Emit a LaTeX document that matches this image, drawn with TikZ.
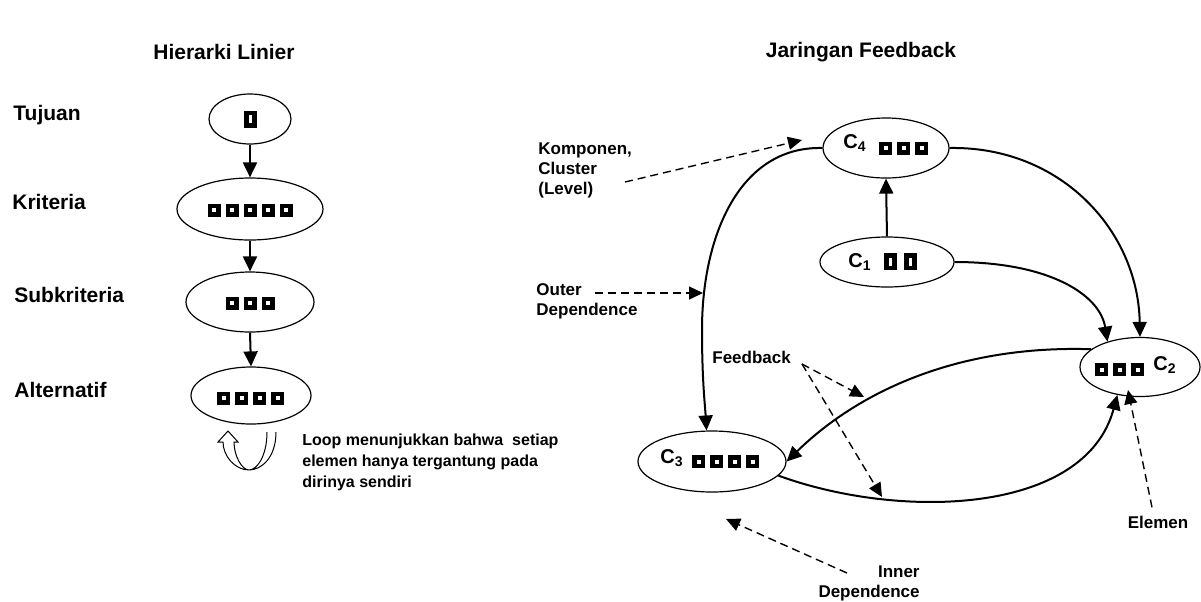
\documentclass[tikz,border=0pt]{standalone}
\usepackage{fontspec}
\setmainfont{Liberation Sans}
\usetikzlibrary{shapes.geometric,arrows.meta,backgrounds}

\tikzset{
  cl/.style={ellipse,draw,line width=0.6pt,fill=white,inner sep=0pt},
  link/.style={line width=1pt,-{Triangle[length=7.5pt,width=7pt]}},
  hint/.style={line width=0.7pt,dash pattern=on 4pt off 2.5pt,-{Triangle[length=7pt,width=6.5pt]}},
  ttl/.style={font=\fontsize{10.5}{12}\selectfont\bfseries,inner sep=0pt},
  lvl/.style={anchor=west,inner sep=0pt,font=\fontsize{10.5}{12}\selectfont\bfseries},
  note/.style={inner sep=0pt,align=left,font=\fontsize{8.5}{10}\selectfont\bfseries},
  clabel/.style={anchor=base west,inner sep=0pt,font=\fontsize{10}{12}\selectfont\bfseries},
  pics/elembox/.style={code={
    \fill (-6.5,-6.5) rectangle (6.5,6.5);
    \fill[white] (-2,-2) rectangle (2,2);}},
  pics/slotbox/.style={code={
    \fill (-6.5,-8.5) rectangle (6.5,8.5);
    \fill[white] (-1.5,-4) rectangle (1.5,4);}},
  pics/selfloop/.style={code={
    \filldraw[fill=white,line width=0.5pt]
      (27,#1) .. controls (27,-12) and (12,0) .. (0,0)
      .. controls (-14,0) and (-26,-14) .. (-26,-28)
      -- (-31,-28) -- (-21,-39) -- (-11,-28) -- (-15,-28)
      .. controls (-15,-14) and (-7,0) .. (0,0)
      .. controls (8,0) and (18,-14) .. (18,#1);}}
}
\newcommand{\sub}[1]{\raisebox{-1.5pt}{\fontsize{7}{8}\selectfont #1}}

\begin{document}
\begin{tikzpicture}[x=0.5pt,y=-0.5pt]
\fill[white] (0,0) rectangle (1201,601);
\useasboundingbox (0,0) rectangle (1201,601);

% headings
\node[ttl] (tl) at (224,52) {Hierarki Linier};
\node[ttl] (tr) at (861,52) {Jaringan Feedback};

% level names of the hierarchy
\node[lvl] (n1) at (13,115) {Tujuan};
\node[lvl] (n2) at (12,202) {Kriteria};
\node[lvl] (n3) at (14,295) {Subkriteria};
\node[lvl] (n4) at (14,390) {Alternatif};

% hierarchy levels
\node[cl,minimum width=41pt,minimum height=25pt] (t1) at (250,119) {};
\node[cl,minimum width=73pt,minimum height=31pt] (t2) at (250,209) {};
\node[cl,minimum width=64pt,minimum height=30pt] (t3) at (250,302) {};
\node[cl,minimum width=60pt,minimum height=28.5pt] (t4) at (251,395.5) {};
\pic at (250,119) {slotbox};
\foreach \x in {214,232,250,268,286} \pic at (\x,210) {elembox};
\foreach \x in {232,250,268} \pic at (\x,303) {elembox};
\foreach \x in {223.5,241.5,259.5,277.5} \pic at (\x,398) {elembox};

\draw[link] (t1.south) -- (t2.north);
\draw[link] (t2.south) -- (t3.north);
\draw[link] (t3.south) -- (t4.north);

\pic at (249,470) {selfloop=-38};
\node[note,anchor=north west,font=\fontsize{8}{10.5}\selectfont\bfseries] (lp) at (302,433)
  {Loop menunjukkan bahwa~ setiap\\elemen hanya tergantung pada\\dirinya sendiri};

% feedback network clusters
\node[cl,minimum width=63pt,minimum height=30pt] (c4) at (886,148) {};
\node[cl,minimum width=67pt,minimum height=25pt] (c1) at (887,262) {};
\node[cl,minimum width=60pt,minimum height=29.5pt] (c2) at (1140,367) {};
\node[cl,minimum width=74pt,minimum height=30.5pt] (c3) at (712,461.5) {};

\begin{scope}[on background layer]
  \pic at (870,327) {selfloop=-42};
  \pic at (697,529) {selfloop=-42};
\end{scope}

\node[clabel] (c4l) at (843,148) {C\sub{4}};
\node[clabel] (c1l) at (848,267) {C\sub{1}};
\node[clabel] (c2l) at (1153,370) {C\sub{2}};
\node[clabel] (c3l) at (660,463) {C\sub{3}};
\foreach \x in {885.5,903.5,921.5} \pic at (\x,148) {elembox};
\foreach \x in {890.5,910.5} \pic at (\x,261.5) {slotbox};
\foreach \x in {1101.5,1119.5,1137.5} \pic at (\x,369.5) {elembox};
\foreach \x in {698.5,716.5,734.5,752.5} \pic at (\x,461.5) {elembox};

% dependencies between clusters
\draw[link] (c1.north) -- (c4.south);
\draw[link] (c4.west) .. controls (740,146) and (702,235) .. (702,330)
  .. controls (702,380) and (705,405) .. (c3.100);
\draw[link] (c4.east) .. controls (1060,146) and (1138,230) .. (c2.north);
\draw[link] (c1.east) .. controls (1050,262) and (1100,295) .. (c2.142);
\draw[link] (c2.160) .. controls (960,345) and (860,390) .. (c3.east);
\draw[link] (c3.348) .. controls (900,520) and (1085,515) .. (c2.231);

% annotations
\node[note,anchor=north west] (kc) at (538,142) {Komponen,\\Cluster\\(Level)};
\node[note,anchor=north west] (od) at (536,283) {Outer\\Dependence};
\node[note,anchor=west] (fb) at (712,357) {Feedback};
\node[note] (el) at (1158,522) {Elemen};
\node[note,anchor=north east,align=right] (id) at (920,565) {Inner\\Dependence};

\coordinate (kcs) at (625,182);
\coordinate (kct) at (802,140);
\coordinate (ods) at (595,293);
\coordinate (odt) at (703,293);
\coordinate (fbs) at (802,364);
\coordinate (fbt1) at (864,397);
\coordinate (fbt2) at (882,497);
\coordinate (elt) at (1128,390);
\coordinate (ids) at (847,573);
\coordinate (idt) at (726,519);

\draw[hint] (kcs) -- (kct);
\draw[hint] (ods) -- (odt);
\draw[hint] (fbs) -- (fbt1);
\draw[hint] (fbs) -- (fbt2);
\draw[hint] ([xshift=-3pt,yshift=4pt]el.north) -- (elt);
\draw[hint] (ids) -- (idt);
\end{tikzpicture}
\end{document}
